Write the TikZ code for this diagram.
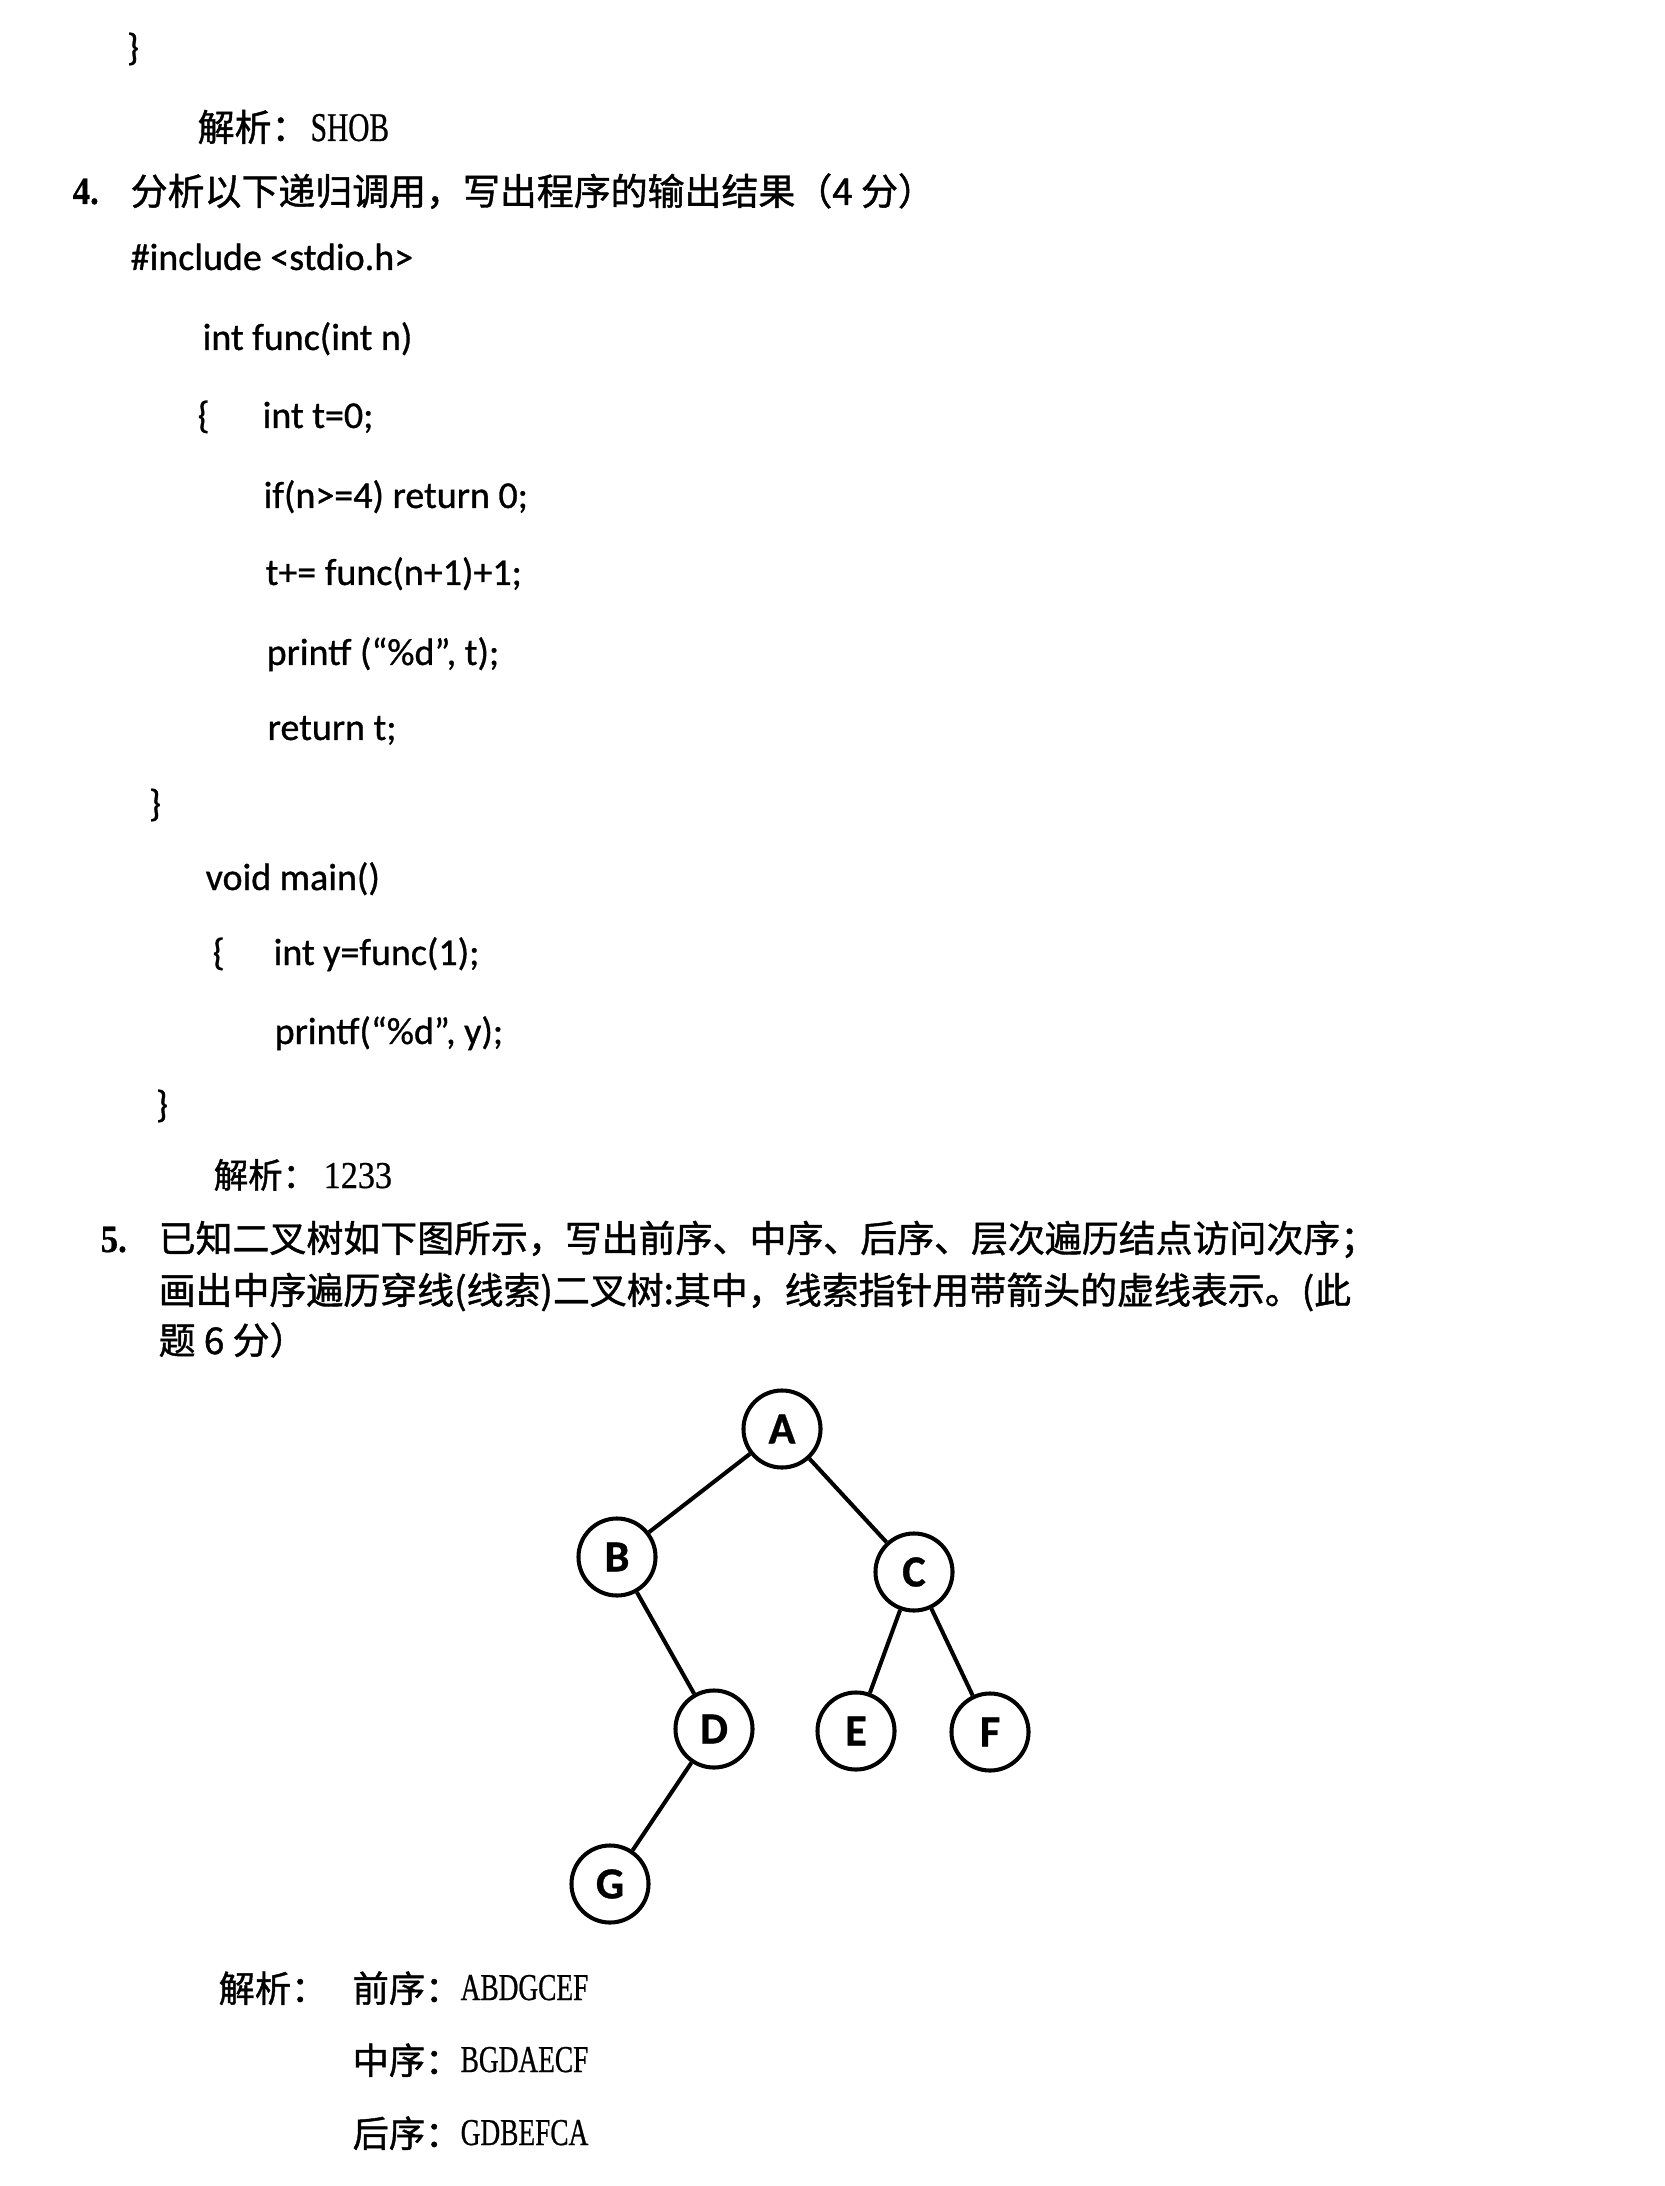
\documentclass[tikz,border=0pt]{standalone}
\usepackage{fontspec}
\setmainfont{Liberation Serif}
\newfontfamily\cjk[FakeBold=1.2]{Noto Sans CJK SC}
\newfontfamily\codefont[FakeBold=0.8]{Carlito}
\newfontfamily\ansfont[FakeStretch=0.9,FakeBold=0.6]{Liberation Serif}
\newfontfamily\shobfont[FakeStretch=0.72,FakeBold=0.6]{Liberation Serif}

\begin{document}
\begin{tikzpicture}[x=0.01cm,y=-0.01cm,
    every node/.style={inner sep=0pt, anchor=base west},
    code/.style={font=\codefont\fontsize{10.8pt}{13pt}\selectfont},
    zh/.style={font=\cjk\fontsize{10.5pt}{13pt}\selectfont},
    zhans/.style={font=\cjk\fontsize{10.3pt}{12pt}\selectfont},
    ans/.style={font=\shobfont\fontsize{10.8pt}{12pt}\selectfont},
    num/.style={font=\ansfont\bfseries\fontsize{11pt}{12pt}\selectfont},
    vertex/.style={circle, draw, line width=1.15pt, minimum size=0.77cm,
        anchor=center, font=\codefont\bfseries\fontsize{12.6pt}{13pt}\selectfont},
    edge/.style={line width=1.15pt}]
    \fill[white] (0,0) rectangle (1664,2186);
    \useasboundingbox (0,0) rectangle (1664,2186);

    % tail of question 3
    \node[code, anchor=center] (end3) at (133,49) {\}};
    \node[zh] (ans3) at (197,141) {解析：};
    \node[font=\shobfont\fontsize{11.6pt}{13pt}\selectfont] (shob) at (310,141) {SHOB};

    % question 4
    \node[num] (q4) at (72,204) {4.};
    \node[zh] (q4txt) at (130,205) {分析以下递归调用，写出程序的输出结果（4 分）};
    \node[code] (inc)   at (130,270)  {\#include <stdio.h>};
    \node[code] (fhead) at (202,350)  {int func(int n)};
    \node[code] (fopen) at (197,428)  {\{};
    \node[code] (l1)    at (262,428)  {int t=0;};
    \node[code] (l2)    at (263,508)  {if(n>=4) return 0;};
    \node[code] (l3)    at (265,585)  {t+= func(n+1)+1;};
    \node[code] (l4)    at (266,665)  {printf (“\%d”, t);};
    \node[code] (l5)    at (267,740)  {return t;};
    \node[code, anchor=center] (fclose) at (155,805) {\}};
    \node[code] (mhead) at (205,890)  {void main()};
    \node[code] (mopen) at (212,965)  {\{};
    \node[code] (m1)    at (273,965)  {int y=func(1);};
    \node[code] (m2)    at (274,1044) {printf(“\%d”, y);};
    \node[code, anchor=center] (mclose) at (162,1106) {\}};
    \node[zh, font=\cjk\fontsize{9.8pt}{11pt}\selectfont] (ans4) at (213,1188) {解析：};
    \node[font=\ansfont\fontsize{10.8pt}{12pt}\selectfont] (res4) at (323,1188) {1233};

    % question 5
    \node[num] (q5) at (100,1252) {5.};
    \node[zh] (q5a) at (158,1252) {已知二叉树如下图所示，写出前序、中序、后序、层次遍历结点访问次序；};
    \node[zh] (q5b) at (158,1304) {画出中序遍历穿线(线索)二叉树:其中，线索指针用带箭头的虚线表示。(此};
    \node[zh] (q5c) at (158,1354) {题 6 分）};

    % the tree
    \node[vertex] (A) at (782,1429) {A};
    \node[vertex] (B) at (617,1557) {B};
    \node[vertex] (C) at (914,1572) {C};
    \node[vertex] (D) at (714,1729) {D};
    \node[vertex] (E) at (856,1731) {E};
    \node[vertex] (F) at (990,1732) {F};
    \node[vertex] (G) at (610,1884) {G};
    \foreach \p/\c in {A/B, A/C, B/D, C/E, C/F, D/G}
        \draw[edge] (\p) -- (\c);

    % answers
    \node[zhans] (ans5) at (218,2002) {解析：};
    \node[zhans] (pre)  at (352,2002) {前序：};
    \node[ans]   (preo) at (460,2000) {ABDGCEF};
    \node[zhans] (in)   at (352,2074) {中序：};
    \node[ans]   (ino)  at (460,2072) {BGDAECF};
    \node[zhans] (post) at (352,2147) {后序：};
    \node[ans]   (posto) at (460,2145) {GDBEFCA};
\end{tikzpicture}
\end{document}
